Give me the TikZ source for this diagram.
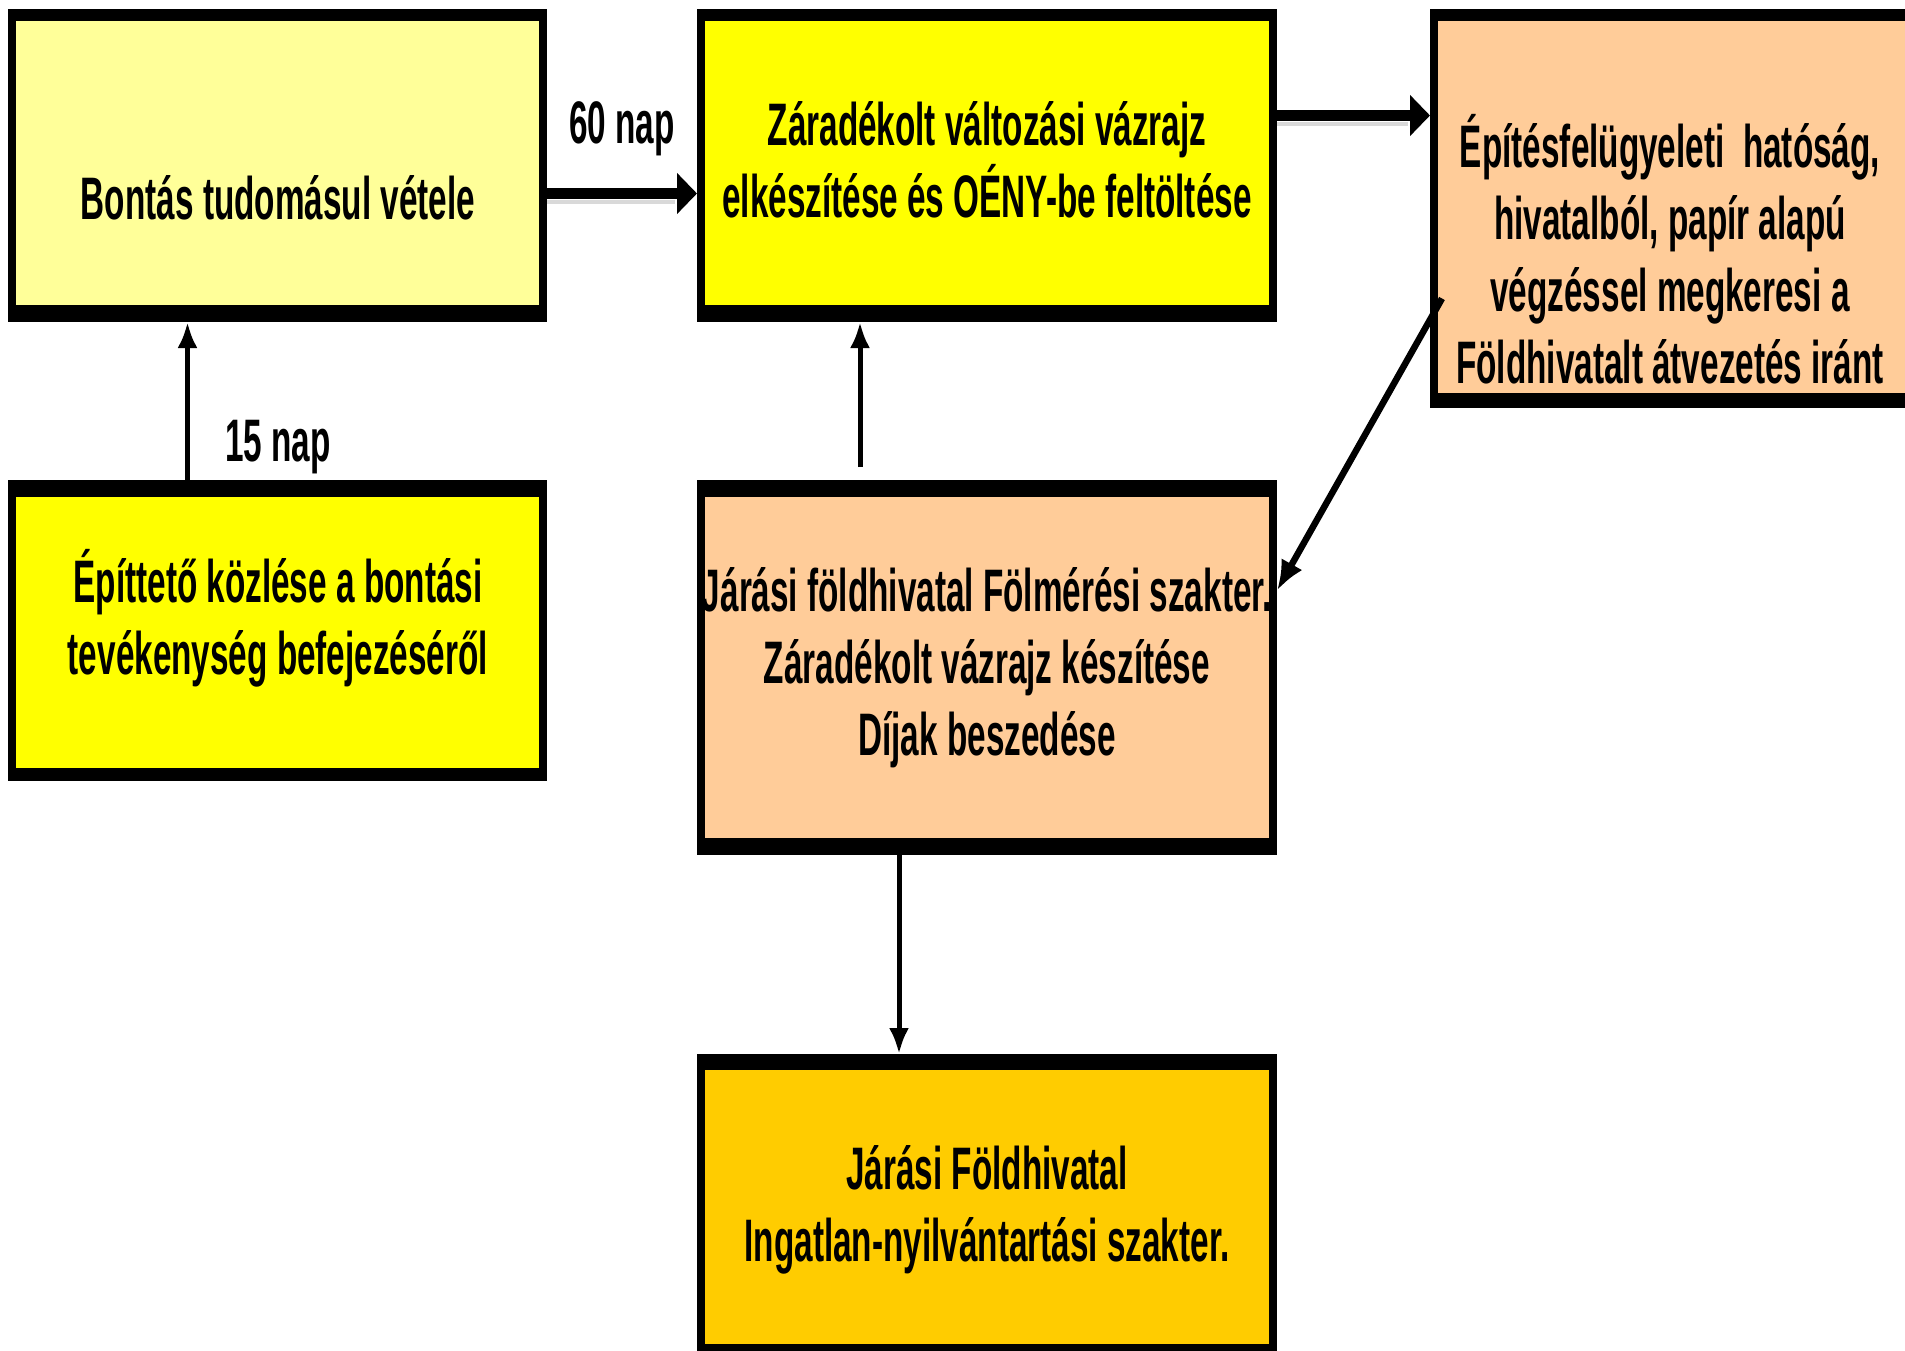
\documentclass[tikz,border=0pt]{standalone}
\usepackage{fontspec}
\setmainfont{Liberation Sans}[FakeStretch=0.555]
\usepackage{xcolor}
\usetikzlibrary{positioning,calc,arrows.meta}

\definecolor{halvanysarga}{HTML}{FFFF99}
\definecolor{sarga}{HTML}{FFFF00}
\definecolor{barack}{HTML}{FFCC99}
\definecolor{narancs}{HTML}{FFCC00}

\begin{document}
\begin{tikzpicture}[
						x=1pt, y=-1pt,
						box/.style n args={3}{
							draw=black, line width=8pt, fill=#1,
							inner sep=0pt, anchor=center,
							path picture={
								\fill[black] (path picture bounding box.north west) rectangle ([yshift=-#2]path picture bounding box.north east);
								\fill[black] ([yshift=#3]path picture bounding box.south west) rectangle (path picture bounding box.south east);
							}
						},
						box_text/.style={
							font=\fontsize{60}{72}\selectfont\bfseries,
							align=center, inner sep=0pt
						},
						ptr/.style={
							-{Latex[length=26pt,width=20pt]}, line width=5pt, black
						},
						thick_ptr/.style={
							-{Triangle[length=20pt,width=40pt]}, line width=11pt, black
						},
						ptr_shadow/.style={
							line width=4pt, gray!30
						}
						]
						\useasboundingbox (0,0) rectangle (1905,1350);
						
						% === DOBOZOK ===
						\node[box={halvanysarga}{8pt}{13pt}, minimum width=531pt, minimum height=305pt] (A) at (277.5,165.5) {};
						\node[box={sarga}{8pt}{13pt}, minimum width=572pt, minimum height=305pt] (B) at (987,165.5) {};
						\node[box={barack}{8pt}{11pt}, minimum width=477pt, minimum height=391pt] (C) at (1672.5,208.5) {};
						\node[box={sarga}{13pt}{9pt}, minimum width=531pt, minimum height=293pt] (D) at (277.5,630.5) {};
						\node[box={barack}{13pt}{13pt}, minimum width=572pt, minimum height=367pt] (E) at (987,667.5) {};
						\node[box={narancs}{12pt}{5pt}, minimum width=572pt, minimum height=291pt] (F) at (987,1203.5) {};
						
						% Szövegek
						\node[box_text] (tA) at (278,198) {Bontás tudomásul vétele};
						\node[box_text] (tB) at (987,160) {Záradékolt változási vázrajz\\elkészítése és OÉNY-be feltöltése};
						\node[box_text] (tC) at (1670,249) {Építésfelügyeleti\ \ hatóság,\\hivatalból, papír alapú\\végzéssel megkeresi a\\Földhivatalt átvezetés iránt};
						\node[box_text] (tD) at (278,618) {Építtető közlése a bontási\\tevékenység befejezéséről};
						\node[box_text] (tE) at (987,668) {Járási földhivatal Fölmérési szakter.\\Záradékolt vázrajz készítése\\Díjak beszedése};
						\node[box_text] (tF) at (987,1210) {Járási Földhivatal\\Ingatlan-nyilvántartási szakter.};
						
						% === NYILAK ===
						\coordinate (ab) at ([yshift=-28pt]A.east);
						\coordinate (bc) at ([yshift=50pt]B.east);
						\draw[ptr_shadow] ($(ab)+(0,8)$) -- ($(ab -| B.west)+(-22,8)$);
						\draw[ptr_shadow] ($(bc)+(0,8)$) -- ($(bc -| C.west)+(-22,8)$);
						\draw[thick_ptr] (ab) -- (ab -| B.west);
						\draw[thick_ptr] (bc) -- (bc -| C.west);
						\node[box_text] (l60) at (622,129) {60 nap};
						
						\coordinate (da) at ([xshift=-90pt]D.north);
						\draw[ptr] (da) -- (da |- A.south);
						\node[box_text] (l15) at (278,447) {15 nap};
						
						\coordinate (eb) at ([xshift=-127pt,yshift=13pt]E.north);
						\draw[ptr] (eb) -- (eb |- B.south);
						
						\coordinate (ce) at ([xshift=12pt,yshift=-90pt]C.west);
						\draw[ptr, line width=6.5pt, -{Latex[length=30pt,width=24pt]}] (ce) -- ([yshift=77pt]E.east);
						
						\coordinate (ef) at ([xshift=-88pt]E.south);
						\draw[ptr] (ef) -- (ef |- F.north);
						
					\end{tikzpicture}
\end{document}
